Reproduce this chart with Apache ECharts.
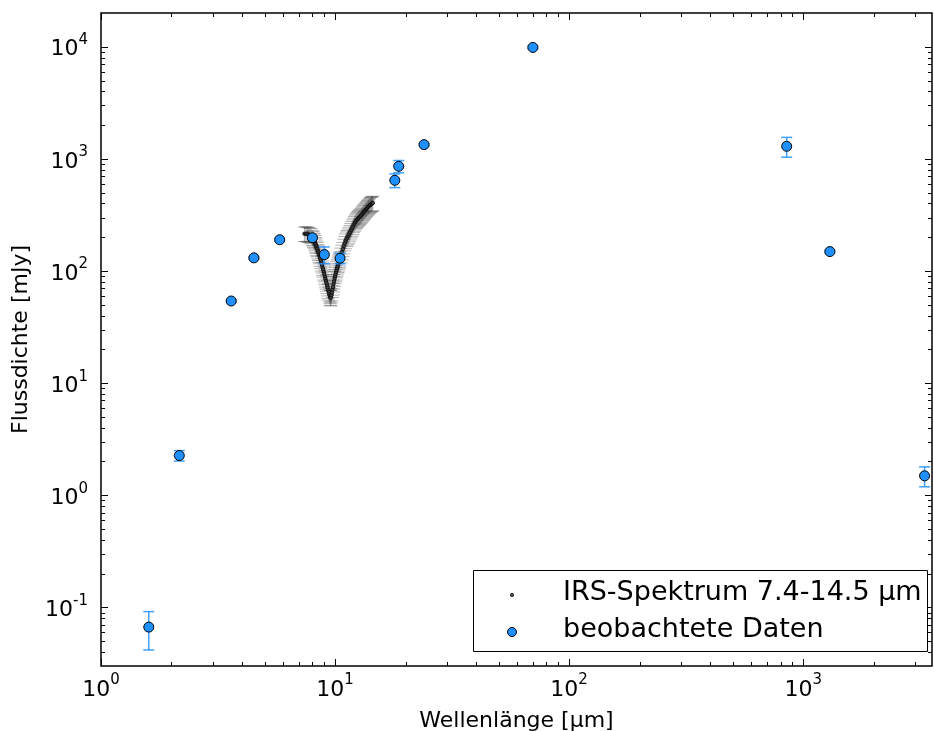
<!DOCTYPE html>
<html><head><meta charset="utf-8">
<script src="https://cdn.jsdelivr.net/npm/echarts@6/dist/echarts.min.js"></script>
<style>html,body{margin:0;padding:0;background:#fff}#c{width:934px;height:731px}</style>
</head><body><div id="c"></div>
<script>
// Observed photometry
const obsWavelength = [1.6, 2.16, 3.6, 4.5, 5.8, 8.0, 9.0, 10.5, 18.0, 18.7, 24.0, 70.0, 850, 1300, 3300];
const obsFlux       = [0.0667, 2.26, 54, 131, 190, 198, 140, 130, 644, 859, 1340, 9860, 1295, 149, 1.49];
const obsError      = [0.025, 0.24, 1.5, 3, 5, 6, 24, 14, 90, 108, 30, 250, 260, 4, 0.3];

// IRS spectrum 7.4-14.5 um
const irsWavelength = [7.4,7.5,7.6,7.7,7.8,7.9,8.0,8.05,8.1,8.15,8.2,8.25,8.3,8.35,8.4,8.45,8.5,8.55,8.6,8.65,8.7,8.75,8.8,8.85,8.9,8.95,
  9.0,9.05,9.1,9.15,9.2,9.25,9.3,9.35,9.4,9.45,9.5,9.55,9.6,9.65,
  9.7,9.75,9.8,9.85,9.9,9.95,10.0,10.05,10.1,10.15,10.2,10.25,10.3,10.35,10.4,10.45,10.5,10.6,10.7,10.8,10.9,11.0,11.1,11.2,11.3,11.4,11.5,11.6,11.7,11.8,11.9,
  12.0,12.1,12.2,12.3,12.4,12.5,12.6,12.7,12.8,12.9,13.0,13.1,13.2,13.3,13.4,13.5,13.6,13.7,13.8,13.9,14.0,14.1,14.2,14.3,14.4,14.5];
const irsFlux = [215,214,216,212,210,207,200,196,190,186,180,173,168,161,157,150,146,140,136,129,124,118,113,107,103,98,
  94,89,85,81,78,74,71,67,65,62,60,58,58,61,
  64,68,72,77,81,86,90,94,98,102,106,110,114,118,122,126,130,139,148,157,167,177,186,194,200,206,214,222,231,240,249,
  258,266,274,281,287,292,297,302,307,312,318,325,332,338,345,351,358,364,370,376,382,388,393,397,401,405];
const irsError = [32,32,32,32,31,31,30,29,28,28,27,26,25,24,23,22,22,21,20,19,19,18,17,16,15,15,
  14,13,13,12,12,11,11,10,10,9,9,9,9,9,
  10,10,11,12,12,13,13,14,15,15,16,16,17,18,18,19,19,21,22,23,25,26,28,29,30,31,32,33,34,36,37,
  38,40,41,42,43,44,44,45,46,47,47,48,50,50,51,52,53,54,55,56,57,58,59,59,60,60];

// Axis ranges and ticks
const xRange = [1, 3550];
const yRange = [0.03, 20000];
const xMajorTicks = [1, 10, 100, 1000];
const xMinorTicks = [2,3,4,5,6,7,8,9,20,30,40,50,60,70,80,90,200,300,400,500,600,700,800,900,2000,3000];
const yMajorTicks = [0.1, 1, 10, 100, 1000, 10000];
const yMinorTicks = [0.04,0.05,0.06,0.07,0.08,0.09,0.2,0.3,0.4,0.5,0.6,0.7,0.8,0.9,2,3,4,5,6,7,8,9,
  20,30,40,50,60,70,80,90,200,300,400,500,600,700,800,900,2000,3000,4000,5000,6000,7000,8000,9000];

const seriesNames = ['IRS-Spektrum 7.4-14.5 µm', 'beobachtete Daten'];
const xName = 'Wellenlänge [µm]';
const yName = 'Flussdichte [mJy]';

const FONT = 'DejaVu Sans';
const chart = echarts.init(document.getElementById('c'), null, {renderer: 'canvas'});

function powLabel(v) {
  const l = Math.log10(v);
  const e = Math.round(l);
  if (Math.abs(l - e) > 1e-6) return '';
  return '{b|10}{s|' + e + '}';
}
const richLbl = {
  b: {fontSize: 22, fontFamily: FONT, color: '#000', padding: [6, 0, 0, 0]},
  s: {fontSize: 15, fontFamily: FONT, color: '#000', padding: [0, 0, 13, 0]}
};

const tickData = [];
xMajorTicks.forEach(v => tickData.push([v, 1, 0]));
xMinorTicks.forEach(v => tickData.push([v, 1, 1]));
yMajorTicks.forEach(v => tickData.push([1, v, 2]));
yMinorTicks.forEach(v => tickData.push([1, v, 3]));

const obsData = obsWavelength.map((w, i) => [w, obsFlux[i], obsError[i]]);
const irsData = irsWavelength.map((w, i) => [w, irsFlux[i], irsError[i]]);

function errRender(color, half, lw) {
  return function (params, api) {
    const x = api.value(0), y = api.value(1), e = api.value(2);
    const top = api.coord([x, y + e]);
    const bot = api.coord([x, Math.max(y - e, 1e-9)]);
    const st = {stroke: color, lineWidth: lw};
    return {type: 'group', children: [
      {type: 'line', shape: {x1: top[0], y1: top[1], x2: bot[0], y2: bot[1]}, style: st},
      {type: 'line', shape: {x1: top[0] - half, y1: top[1], x2: top[0] + half, y2: top[1]}, style: st},
      {type: 'line', shape: {x1: bot[0] - half, y1: bot[1], x2: bot[0] + half, y2: bot[1]}, style: st}
    ]};
  };
}

const option = {
  animation: false,
  backgroundColor: '#fff',
  grid: {left: 101, right: 2, top: 13, bottom: 65, containLabel: false, outerBoundsMode: 'none',
    show: true, borderColor: '#000', borderWidth: 1.5, backgroundColor: 'transparent'},
  xAxis: {
    type: 'log', logBase: 10, min: xRange[0], max: xRange[1],
    axisLine: {show: false}, axisTick: {show: false}, splitLine: {show: false}, minorTick: {show: false},
    axisLabel: {formatter: powLabel, rich: richLbl, margin: 7, showMaxLabel: false},
    name: xName, nameLocation: 'middle', nameGap: 44,
    nameTextStyle: {fontSize: 22, fontFamily: FONT, color: '#000'}
  },
  yAxis: {
    type: 'log', logBase: 10, min: yRange[0], max: yRange[1],
    axisLine: {show: false}, axisTick: {show: false}, splitLine: {show: false}, minorTick: {show: false},
    axisLabel: {formatter: powLabel, rich: richLbl, margin: 13},
    name: yName, nameLocation: 'middle', nameGap: 69, nameRotate: 90,
    nameTextStyle: {fontSize: 22, fontFamily: FONT, color: '#000'}
  },
  series: [
    {
      type: 'custom', name: 'irsErr', silent: true, z: 2,
      renderItem: errRender('rgba(0,0,0,0.3)', 6.5, 1),
      encode: {x: 0, y: 1}, data: irsData
    },
    {
      type: 'scatter', name: seriesNames[0], z: 3, symbol: 'circle', symbolSize: 3.5,
      itemStyle: {color: '#444', borderColor: '#000', borderWidth: 0.7, opacity: 1},
      data: irsData.map(d => [d[0], d[1]])
    },
    {
      type: 'custom', name: 'obsErr', silent: true, z: 4,
      renderItem: errRender('rgba(30,144,255,0.85)', 5.5, 1.5),
      encode: {x: 0, y: 1}, data: obsData
    },
    {
      type: 'scatter', name: seriesNames[1], z: 5, symbol: 'circle', symbolSize: 10,
      itemStyle: {color: '#1e90ff', borderColor: '#000', borderWidth: 1, opacity: 1},
      data: obsData.map(d => [d[0], d[1]])
    },
    {
      type: 'custom', name: 'ticks', silent: true, z: 10, clip: false,
      encode: {x: 0, y: 1}, data: tickData,
      renderItem: function (params, api) {
        const cs = params.coordSys;
        const k = api.value(2);
        const st = {stroke: '#000', lineWidth: 1};
        if (k < 2) {
          const px = Math.round(api.coord([api.value(0), 1])[0]) + 0.5;
          const len = k === 0 ? 7 : 4;
          const yb = cs.y + cs.height, yt = cs.y;
          return {type: 'group', children: [
            {type: 'line', shape: {x1: px, y1: yb, x2: px, y2: yb - len}, style: st},
            {type: 'line', shape: {x1: px, y1: yt, x2: px, y2: yt + len}, style: st}
          ]};
        } else {
          const py = Math.round(api.coord([1, api.value(1)])[1]) + 0.5;
          const len = k === 2 ? 7 : 4;
          const xl = cs.x, xr = cs.x + cs.width;
          return {type: 'group', children: [
            {type: 'line', shape: {x1: xl, y1: py, x2: xl + len, y2: py}, style: st},
            {type: 'line', shape: {x1: xr, y1: py, x2: xr - len, y2: py}, style: st}
          ]};
        }
      }
    }
  ],
  graphic: [
    {type: 'rect', z: 100, shape: {x: 473.5, y: 570.5, width: 454, height: 81},
      style: {fill: '#fff', stroke: '#000', lineWidth: 1}},
    {type: 'circle', z: 101, shape: {cx: 512, cy: 595, r: 1.7},
      style: {fill: '#444', stroke: '#000', lineWidth: 0.6}},
    {type: 'text', z: 101, x: 563, y: 593,
      style: {text: seriesNames[0], fontSize: 27, fontFamily: FONT, fill: '#000', verticalAlign: 'middle', align: 'left'}},
    {type: 'circle', z: 101, shape: {cx: 512, cy: 632, r: 4.5},
      style: {fill: '#1e90ff', stroke: '#000', lineWidth: 1}},
    {type: 'text', z: 101, x: 563, y: 630,
      style: {text: seriesNames[1], fontSize: 27, fontFamily: FONT, fill: '#000', verticalAlign: 'middle', align: 'left'}}
  ]
};
chart.setOption(option);
</script>
</body></html>
